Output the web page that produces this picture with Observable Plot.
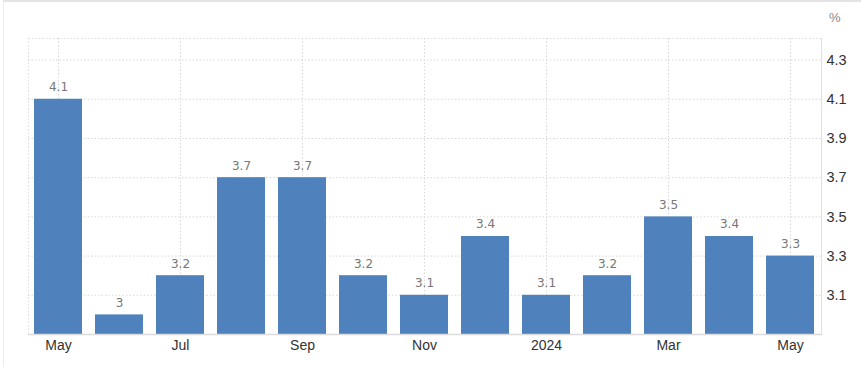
<!DOCTYPE html>
<html>
<head>
<meta charset="utf-8">
<script src="https://cdn.jsdelivr.net/npm/d3@7"></script>
<script src="https://cdn.jsdelivr.net/npm/@observablehq/plot@0.6"></script>
<style>
  html, body { margin: 0; padding: 0; background: #fff; }
  #wrap { position: relative; width: 861px; height: 367px; overflow: hidden; }
  #frame { position: absolute; left: 3px; top: 0; width: 900px; height: 400px;
           border-top: 2px solid #e3e3e3; border-left: 1px solid #ececec; box-sizing: border-box; }
  #unit { position: absolute; left: 829px; top: 10px; font: 13px "Liberation Sans", Arial, sans-serif; color: #888; }
  #chart { position: absolute; left: 0; top: 0; }
</style>
</head>
<body>
<div id="wrap">
  <div id="frame"></div>
  <div id="chart"></div>
  <div id="unit">%</div>
</div>
<script>
const months = ["2023-05","2023-06","2023-07","2023-08","2023-09","2023-10","2023-11","2023-12","2024-01","2024-02","2024-03","2024-04","2024-05"];
const values = [4.1, 3.0, 3.2, 3.7, 3.7, 3.2, 3.1, 3.4, 3.1, 3.2, 3.5, 3.4, 3.3];
const valueLabels = ["4.1","3","3.2","3.7","3.7","3.2","3.1","3.4","3.1","3.2","3.5","3.4","3.3"];
const tickLabels = ["May","","Jul","","Sep","","Nov","","2024","","Mar","","May"];
const yTicks = [3.1, 3.3, 3.5, 3.7, 3.9, 4.1, 4.3];

const data = months.map((m, i) => ({month: m, value: values[i], label: valueLabels[i]}));
const labelOf = new Map(months.map((m, i) => [m, tickLabels[i]]));
const xTicks = months.filter((m, i) => tickLabels[i] !== "");

const chart = Plot.plot({
  width: 861,
  height: 367,
  marginLeft: 28,
  marginRight: 40,
  marginTop: 38,
  marginBottom: 33,
  style: {fontFamily: "'Liberation Sans', Arial, sans-serif", background: "transparent"},
  x: {type: "band", domain: months, paddingInner: 0.21, paddingOuter: 0.105, label: null},
  y: {domain: [2.9, 4.41], label: null},
  marks: [
    Plot.frame({stroke: "#dddddd", strokeDasharray: "1.5,2"}),
    Plot.gridY(yTicks, {stroke: "#d8d8d8", strokeOpacity: 1, strokeDasharray: "1.5,2"}),
    Plot.gridX(xTicks, {stroke: "#d8d8d8", strokeOpacity: 1, strokeDasharray: "1.5,2"}),
    Plot.barY(data, {x: "month", y1: 2.9, y2: "value", fill: "#4f81bd"}),
    Plot.text(data, {x: "month", y: "value", text: "label", dy: -12, fill: "#777",
                     fontSize: 12, fontFamily: "'DejaVu Sans', sans-serif"}),
    Plot.axisX(xTicks, {tickSize: 0, tickPadding: 6, fontSize: 14, fill: "#333",
                        tickFormat: d => labelOf.get(d), label: null}),
    Plot.axisY(yTicks, {anchor: "right", tickSize: 0, tickPadding: 5, fontSize: 14.5, fill: "#333",
                        tickFormat: d => d.toFixed(1), label: null}),
    Plot.frame({anchor: "right", stroke: "#e0e0e0", strokeWidth: 1}),
    Plot.frame({anchor: "bottom", stroke: "#dcdcdc", strokeWidth: 1.5})
  ]
});
document.getElementById("chart").appendChild(chart);
</script>
</body>
</html>
